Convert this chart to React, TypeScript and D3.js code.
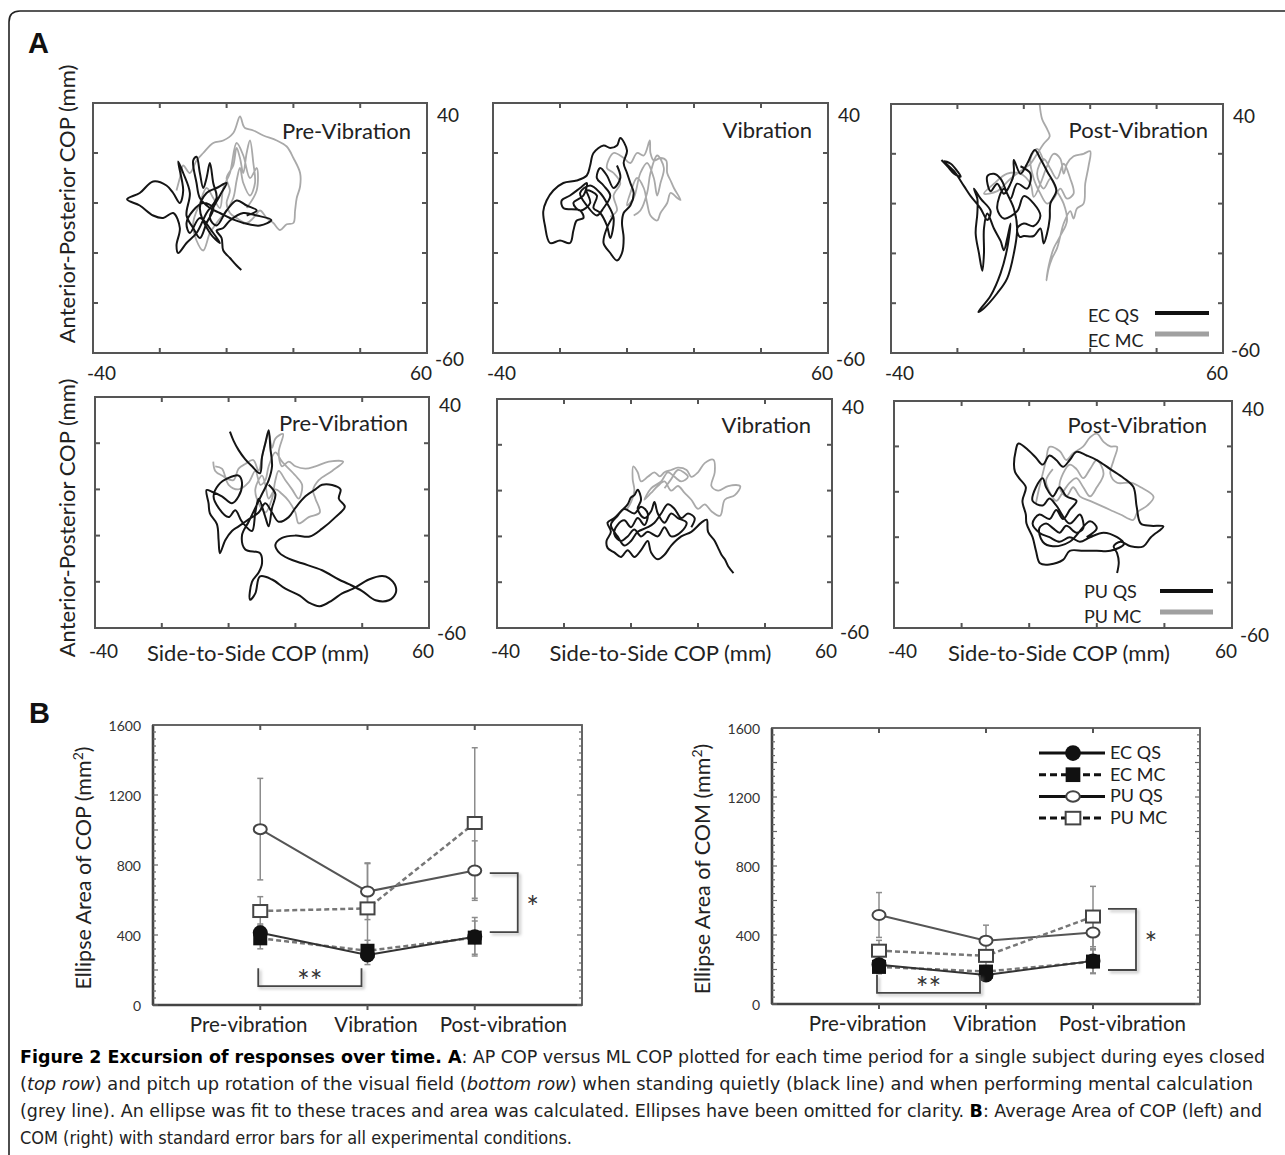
import React from 'react';
import * as d3 from 'd3';

type Pt = [number, number];

// ---------------- Panel A: COP traces (Side-to-side mm, Anterior-posterior mm) ----------------
const ecQsPre: Pt[] = [[4.4,-26.8],[3,-25],[1,-22],[-1,-19],[-1.5,-14],[-3,-11],[-1,-10],[1,-7],[5,-4],[9,-5],[13.4,-6.8],[10,-9],[5,-8],[1,-6],[-2,-4],[-5,-2],[-8,2],[-9,8],[-10,17],[-9,18.5],[-8,12],[-7,6],[-6,10],[-5,16],[-4,8],[-3,2],[-6,-4],[-9,-12],[-12,-16],[-14.5,-20],[-15,-17],[-14,-10],[-16,-4],[-19,-6],[-22,-5],[-26,-1],[-29.8,1.5],[-26,4],[-22,8.6],[-18,7],[-16,4],[-14,0],[-13,5],[-14.5,16.6],[-13,12],[-11,4],[-12,-5],[-10,-10],[-8,-14],[-6,-8],[-4,-2],[-7,0],[-10,-3],[-12,-8],[-11,-12],[-8,-6],[-4,-12],[-2,-16],[-5,-12],[-8,-2],[-6,4],[-3,6],[0,8],[-2,3],[-5,-6],[-3,-9],[0,-3],[3,1],[6,-1],[9,-3],[6,-5]];
const ecMcPre: Pt[] = [[-15,5],[-14,10],[-13,15],[-11,12],[-9,17],[-7,20],[-4,24],[-1,25],[2,28],[4,34.6],[5,31],[5.5,30],[8,29],[11,27],[15,25],[18,22.6],[20,18],[22,12],[22,6.6],[21,2],[20.5,-3],[20,-8],[18,-8.5],[16,-10.8],[14,-8],[12,-6],[10,-3],[8,-6],[6,-8],[3,-6],[1,-4],[0,0],[1,5],[0,10],[2,15],[3,22],[4,18],[5,12],[6,20],[7,25],[8,16],[8.5,8],[7,3],[5,8],[4,14],[3,9],[2,2],[0,-3],[-3,-8],[-5,-12],[-7,-19],[-9,-15],[-10,-8],[-8,0],[-6,6],[-4,2],[-2,-2],[-1,6],[1,12],[3,24],[5,19],[7,10],[9,14],[9,5],[6,-2]];
const ecQsVib: Pt[] = [[-4,-5],[-6,-10],[-7,-16],[-5,-20],[-3,-23],[-1.5,-20],[-1,-14],[-1.5,-8],[-1,-4],[1,-1],[2,4],[1,8],[0,12],[-1,16],[0,21],[-2,26],[-3,23],[-5,22],[-7,23],[-10,20],[-11,15],[-12,11],[-15,9],[-19,8],[-22,5],[-24,1],[-25,-3.4],[-24.5,-9],[-23,-16],[-20,-15],[-17,-16],[-16,-11],[-15,-7],[-13,-6],[-14,-3],[-19,-2],[-19.5,1],[-17,3],[-14,6],[-12,8],[-13,3],[-16,0],[-14,-3],[-11,0],[-12,5],[-9,3],[-10,-2],[-8,-4],[-6,-9],[-5,-14],[-4,-6],[-6,0],[-8,4],[-11,7],[-14,4],[-12,-1],[-9,-5],[-7,-2],[-5,3],[-7,7],[-9,10],[-8,14],[-6,11],[-4,6],[-2,10],[-3,15]];
const ecMcVib: Pt[] = [[-5,-5.5],[-3,-3],[-4,3],[-2,8],[-4,12],[-6,14],[-4,20],[-1,18],[1,16],[3,20],[5,19],[6.8,25],[7,20],[8,17],[10,18],[11.7,17],[12,12],[13,9],[14,6],[16,1.2],[15,2],[13,4],[12,0],[10,-4],[9,-7],[7,-5],[6,0],[5,6],[3,10],[1,4],[0,-1],[2,2],[4,12],[6,16],[8,10],[9,3],[10,8],[11,14],[9,19],[7,12],[6,4],[4,-3],[2,-5]];
const ecQsPost: Pt[] = [[-24.8,17.5],[-23,15],[-21,12],[-19,10.8],[-20,13],[-22,16],[-24,17],[-21,13],[-18,7],[-16,3],[-13,-2],[-11,-6.6],[-10,-3],[-13,2],[-15,6],[-14,2],[-14,-4],[-14.5,-12],[-13.5,-20],[-12.5,-27],[-12,-20],[-12,-10],[-11,-4],[-9,-10],[-7,-15],[-6,-18.7],[-5,-14],[-4,-8],[-5,-18],[-7,-28],[-10,-37],[-13.7,-43.5],[-12,-42],[-8,-36],[-5,-30],[-3,-20],[-2,-10],[-3,-2],[-5,4],[-7,10],[-9,12],[-11,11],[-10,5],[-8,8],[-6,4],[-4,8],[-3,12],[-3,17.5],[-1,12],[1,16],[3.3,21.5],[5,18],[7,13],[9.8,5.4],[8,0],[7.8,-6],[7,-12],[6,-16],[5,-10],[3,-13],[0,-13],[-1.2,-13.4],[-2,-10],[0,-8],[3,-9],[5,-5],[3,0],[0,3],[-2,-3],[-6,-6],[-8,-2],[-6,6],[-4,2],[-2,8],[1,6],[2,12],[-1,15]];
const ecMcPost: Pt[] = [[4.8,39.6],[5.5,34],[7,30],[7.8,27],[6,24],[4,20],[2,16],[0,14],[-4,10],[-8,5],[-12,4],[-9,8],[-5,12],[-1,12],[2,8],[3,2.7],[5,8],[7,15],[9,20],[11,18],[12,12],[13,16],[15,19],[18,20],[20,21],[19.5,15],[18.5,8],[18,0],[16,-2],[15,-6],[14,-3],[12,-8],[11,-13],[10,-18],[8.5,-22],[7.5,-26],[6.8,-30.8],[7.5,-25],[9,-18],[11,-13],[13,-7],[12,0],[10,5],[8,10],[6,6],[4,12],[6,18],[8,14],[10,10],[12,16],[14,10],[15,4],[13,2],[11,6],[9,2],[7,0],[5,4],[3,10],[2,18],[4,22],[6,17]];
const puQsPre: Pt[] = [[0.4,25],[1.5,21],[3,17],[5,13],[7,10],[9.4,7],[10,14],[11,20],[12,25.6],[12.5,18],[13,10],[12,4],[10,-2],[8,-8],[6,-14],[4,-20],[5,-26],[9.4,-27.6],[10,-32],[9,-36],[7,-40],[6.4,-47.8],[8,-45],[9.4,-37.7],[13,-39],[17,-43],[21.3,-46],[24,-49],[27.3,-50.6],[31,-48],[34,-45],[37.3,-43],[42,-39],[46,-37.5],[48,-38.4],[50,-42],[50,-45],[48,-48],[44,-48],[40,-44],[36,-41],[33,-39],[28,-35],[22,-32],[18,-30],[15.3,-27.6],[14,-24],[16,-21],[20,-20],[24.3,-20.4],[28,-17],[32,-12],[34.8,-7.5],[33,-4],[33.5,0],[31,1.9],[28,2],[26,0],[23,-3],[20,-8],[18,-12],[15,-14],[13,-10],[11,-6],[9,-10],[6,-13],[3,-16],[1,-18],[-1,-22],[-2.6,-27.6],[-3,-22],[-3.5,-15],[-5.6,-10.4],[-6,-6],[-6.6,-0.3],[-5,-1],[-2,-3],[1,-6],[3,-3],[4,3],[3,6],[0,5],[-3,2],[-4.5,-3],[-3,-8],[0,-12],[2,-9],[4,-14],[7,-18],[8,-10],[9,-4],[11,-12],[12,-16],[13,-8],[14,-2],[12,2]];
const puMcPre: Pt[] = [[-4.6,12],[-4,8],[-2,6],[1.4,4],[3,9],[5,11],[7.4,12.7],[9,8],[10,14],[11,20],[12,24],[13,18],[14,22],[16.3,24],[15,16],[16,10],[18,12],[20,10],[23,9],[26,10],[30,12],[34.3,12],[31,8],[27,4],[25.3,-0.3],[26,-4],[27.3,-10],[24,-12],[21,-14.7],[20,-10],[18,-5],[16,-2],[14,0],[12,-4],[11,2],[10,6],[8,0],[9,-6],[11,-10],[13,-4],[14,4],[15,8],[17,4],[19,0],[21,-4],[22,2],[20,6],[16,12],[14,16],[12,10],[11,4],[9.5,2],[8,8],[6,3],[3,0],[0,2],[-2,9],[-4,10]];
const puQsVib: Pt[] = [[30.6,-36],[29,-33],[28,-30],[27,-28],[26,-25],[25,-22],[23,-18],[22.6,-12.7],[21,-14],[18,-18],[15,-20],[12,-24],[10,-28],[8,-30],[6,-27],[5,-22],[3,-26],[1,-29],[-1,-26],[-3,-29],[-5,-27],[-7,-25],[-7.3,-22],[-6,-18],[-7,-14],[-5,-12],[-3,-9],[-1,-6],[0,-3],[1,-2],[2,0.4],[3,-4],[2,-8],[4,-12],[6,-9],[7,-5],[8,-10],[10,-14],[12,-10],[14,-12],[16.6,-14],[15,-18],[12,-20],[10,-16],[8,-20],[5,-18],[3,-20],[1,-17],[-1,-20],[-3,-22],[-5,-19],[-4,-15],[-2,-13],[0,-16],[2,-12],[4,-15],[5,-10],[3,-7],[1,-10],[-2,-8],[-4,-11],[-6,-15],[-4,-20],[-2,-24],[0,-22],[2,-18],[5,-16],[7,-14],[9,-10],[11,-6],[13,-8],[15,-12],[17,-10],[19,-12],[18,-16]];
const puMcVib: Pt[] = [[-1.3,-8.3],[0,-5],[1,0],[0.5,5],[0.7,10.6],[2,8],[3,4],[5,6],[7,8],[8.6,6.2],[10,8],[12,9],[14,10],[16.6,9],[18,6],[20,8],[22,12],[24.6,13.5],[25,8],[24,2],[26,0],[29,2],[32.6,1.9],[31,-2],[28,-4],[26.6,-11],[24,-9],[22,-6],[20,-8],[18,-4],[16,-1],[14,2],[12,0],[10,4],[8,2],[6,-1],[4,-4],[6,1],[9,4],[11,8],[13,6],[15,4],[17,6],[14,9],[12,5],[10,1]];
const puQsPost: Pt[] = [[26,-35.8],[26.5,-31],[26,-27],[25,-24],[27,-22],[30,-24],[33.8,-24],[36,-20],[39.7,-15.3],[36,-15],[33,-14],[31.8,-6.6],[30.8,2.2],[28,6],[24,10],[20,14],[17,16],[14,17.6],[12,14],[10,11],[8,14],[6,16],[4,12],[2,15],[0,18],[-3.2,21.3],[-4,18],[-4.5,12],[-4.2,8.8],[-3,6],[-1,2],[-2,-4],[-1,-10],[-0.8,-14],[1,-20],[2,-26],[3.2,-31.5],[6,-32],[10,-30],[12,-26],[16,-26],[20,-26],[24,-26],[28,-23],[26,-20],[22,-18],[18,-20],[15,-22],[12,-20],[9,-22],[6,-20],[3,-18],[1,-14],[3,-10],[6,-12],[8,-8],[10,-12],[12,-8],[14,-4],[11,-2],[9,2],[7,-2],[5,2],[4,6],[2,2],[1,-4],[4,-6],[6,-3],[8,-6],[12,-14],[15,-10],[16,-16],[14,-18],[11,-15],[9,-18],[7,-16],[5,-14],[3,-16],[4,-22],[7,-24],[12,-22],[18,-13],[20,-16],[17,-20]];
const puMcPost: Pt[] = [[2,-5],[3,2],[4,8],[5,14],[6,19.8],[9,18],[11,14],[13,17],[16,20],[18,24],[20,25.6],[22,22],[24,20],[26,19.8],[25,14],[24,8],[26,4],[30,4],[33,2],[36.8,-2.2],[35,-6],[32,-9],[30.8,-12.4],[27,-10],[24,-8],[21,-6],[18,-4],[15,-2],[13,2],[11,-2],[9,2],[10,8],[12,12],[14,10],[16,6],[18,10],[20,14],[22,8],[20,2],[18,-2],[16,2],[14,6],[12,4],[10,0],[8,-4],[6,0],[5,5],[7,10]];

const domainML: [number, number] = [-40, 60];
const domainAP: [number, number] = [-60, 40];
const innerTicksML = [-20, 0, 20, 40];
const innerTicksAP = [-40, -20, 0, 20];
const periodTitles = ['Pre-Vibration', 'Vibration', 'Post-Vibration'];
const legendTop = ['EC QS', 'EC MC'];
const legendBottom = ['PU QS', 'PU MC'];

// ---------------- Panel B: ellipse areas (mm^2) ----------------
const conditions = ['Pre-vibration', 'Vibration', 'Post-vibration'];
const seriesNames = ['EC QS', 'EC MC', 'PU QS', 'PU MC'];
const copEcQs = [413, 286, 390];
const copEcMc = [381, 310, 385];
const copPuQs = [1005, 648, 768];
const copPuMc = [537, 552, 1040];
const copEcQsErr = [50, 55, 110];
const copEcMcErr = [60, 60, 95];
const copPuQsErr = [290, 160, 170];
const copPuMcErr = [82, 260, 430];
const comEcQs = [228, 168, 250];
const comEcMc = [215, 188, 246];
const comPuQs = [516, 367, 414];
const comPuMc = [309, 279, 507];
const comEcQsErr = [30, 30, 70];
const comEcMcErr = [40, 35, 70];
const comPuQsErr = [130, 90, 100];
const comPuMcErr = [60, 60, 175];
const areaTicks = [0, 400, 800, 1200, 1600];

const FONT = "Lato, 'Open Sans', sans-serif";
const CAPFONT = "'Liberation Sans Narrow', 'DejaVu Sans Condensed', 'Liberation Sans', sans-serif";

type PanelA = {
  box: [number, number, number, number];
  title: string;
  black: Pt[];
  grey: Pt[];
  row: number;
  titleDx: number;
  titleDy: number;
  n60dy: number;
  legend?: string[];
  leg?: { tx: number; lx0: number; lx1: number; ty: number[]; ly: number[] };
};

const panelsA: PanelA[] = [
  { box: [93, 103, 427, 353], title: periodTitles[0], black: ecQsPre, grey: ecMcPre, row: 0, titleDx: -16, titleDy: 36, n60dy: 13 },
  { box: [493, 103, 828, 353], title: periodTitles[1], black: ecQsVib, grey: ecMcVib, row: 0, titleDx: -16, titleDy: 35, n60dy: 13 },
  { box: [891, 104, 1223, 353], title: periodTitles[2], black: ecQsPost, grey: ecMcPost, row: 0, titleDx: -15, titleDy: 34, n60dy: 4,
    legend: legendTop, leg: { tx: -135, lx0: -68, lx1: -14, ty: [-31, -6], ly: [-40, -19] } },
  { box: [95, 397, 429, 628], title: periodTitles[0], black: puQsPre, grey: puMcPre, row: 1, titleDx: -21, titleDy: 34, n60dy: 12 },
  { box: [497, 399, 832, 628], title: periodTitles[1], black: puQsVib, grey: puMcVib, row: 1, titleDx: -21, titleDy: 34, n60dy: 11 },
  { box: [894, 401, 1232, 628], title: periodTitles[2], black: puQsPost, grey: puMcPost, row: 1, titleDx: -25, titleDy: 32, n60dy: 14,
    legend: legendBottom, leg: { tx: -148, lx0: -72, lx1: -19, ty: [-30, -5], ly: [-37, -16] } },
];

function renderPanelA(p: PanelA, i: number) {
  const [x0, y0, x1, y1] = p.box;
  const x = d3.scaleLinear().domain(domainML).range([x0, x1]);
  const y = d3.scaleLinear().domain(domainAP).range([y1, y0]);
  const line = d3.line<Pt>().x(d => x(d[0])).y(d => y(d[1])).curve(d3.curveCatmullRom.alpha(0.5));
  const tl = 5;
  const r = p.row;
  return (
    <g key={'pa' + i}>
      <path d={line(p.grey) || ''} fill="none" stroke="#a9a9a9" strokeWidth={1.8} strokeLinejoin="round" />
      <path d={line(p.black) || ''} fill="none" stroke="#151515" strokeWidth={2} strokeLinejoin="round" />
      <rect x={x0} y={y0} width={x1 - x0} height={y1 - y0} fill="none" stroke="#555" strokeWidth={2} />
      {innerTicksML.map(t => (
        <g key={'tx' + t}>
          <line x1={x(t)} x2={x(t)} y1={y0} y2={y0 + tl} stroke="#555" strokeWidth={2} />
          <line x1={x(t)} x2={x(t)} y1={y1} y2={y1 - tl} stroke="#555" strokeWidth={2} />
        </g>
      ))}
      {innerTicksAP.map(t => (
        <g key={'ty' + t}>
          <line x1={x0} x2={x0 + tl} y1={y(t)} y2={y(t)} stroke="#555" strokeWidth={2} />
          <line x1={x1} x2={x1 - tl} y1={y(t)} y2={y(t)} stroke="#555" strokeWidth={2} />
        </g>
      ))}
      <text x={x1 + p.titleDx} y={y0 + p.titleDy} textAnchor="end" fontFamily={FONT} fontSize={22} fill="#222">{p.title}</text>
      <text x={x0 - 6} y={y1 + (r === 0 ? 27 : 30)} fontFamily={FONT} fontSize={19} fill="#222">{String(domainML[0])}</text>
      <text x={x1 + 5} y={y1 + (r === 0 ? 27 : 30)} textAnchor="end" fontFamily={FONT} fontSize={19} fill="#222">{String(domainML[1])}</text>
      <text x={x1 + 10} y={y0 + (r === 0 ? 19 : 15)} fontFamily={FONT} fontSize={19} fill="#222">{String(domainAP[1])}</text>
      <text x={x1 + 8} y={y1 + p.n60dy} fontFamily={FONT} fontSize={19} fill="#222">{String(domainAP[0])}</text>
      {r === 1 && (
        <text x={(x0 + x1) / 2 - 4} y={y1 + 33} textAnchor="middle" fontFamily={FONT} fontSize={22} fill="#222">Side-to-Side COP (mm)</text>
      )}
      {p.legend && p.leg && p.legend.map((name, k) => (
        <g key={name}>
          <text x={x1 + p.leg!.tx} y={y1 + p.leg!.ty[k]} fontFamily={FONT} fontSize={18} fill="#222">{name}</text>
          <line x1={x1 + p.leg!.lx0} x2={x1 + p.leg!.lx1} y1={y1 + p.leg!.ly[k]} y2={y1 + p.leg!.ly[k]}
            stroke={k === 0 ? '#111' : '#a0a0a0'} strokeWidth={k === 0 ? 4 : 5} />
        </g>
      ))}
    </g>
  );
}

type ChartB = {
  box: [number, number, number, number];
  label: string;
  means: number[][];
  errs: number[][];
  legend: boolean;
  starTop: number;
  starBottom: number;
  dStarBottom: number;
  dStarTop: number;
};

const chartsB: ChartB[] = [
  { box: [153, 725, 582, 1005], label: 'COP', means: [copEcQs, copEcMc, copPuQs, copPuMc], errs: [copEcQsErr, copEcMcErr, copPuQsErr, copPuMcErr], legend: false,
    starTop: 754, starBottom: 417, dStarBottom: 108, dStarTop: 210 },
  { box: [772, 728, 1200, 1004], label: 'COM', means: [comEcQs, comEcMc, comPuQs, comPuMc], errs: [comEcQsErr, comEcMcErr, comPuQsErr, comPuMcErr], legend: true,
    starTop: 551, starBottom: 197, dStarBottom: 64, dStarTop: 168 },
];

function marker(kind: number, cx: number, cy: number, big: boolean, key: string) {
  const s = big ? 1.05 : 1;
  if (kind === 0) return <circle key={key} cx={cx} cy={cy} r={7.5 * s} fill="#111" />;
  if (kind === 1) return <rect key={key} x={cx - 7 * s} y={cy - 7 * s} width={14 * s} height={14 * s} fill="#111" />;
  if (kind === 2) return <ellipse key={key} cx={cx} cy={cy} rx={6.5 * s} ry={5 * s} fill="#fff" stroke="#444" strokeWidth={2} />;
  return <rect key={key} x={cx - 7 * s} y={cy - 6 * s} width={14 * s} height={12 * s} fill="#fff" stroke="#444" strokeWidth={2} />;
}

function renderChartB(c: ChartB, i: number) {
  const [x0, y0, x1, y1] = c.box;
  const x = d3.scaleLinear().domain([0, 4]).range([x0, x1]);
  const y = d3.scaleLinear().domain([0, 1600]).range([y1, y0]);
  const lbl = d3.scaleBand<string>().domain(conditions).range([x0 + 32, x0 + 414]);
  const minor = d3.range(0, 1601, 40);
  const lineGen = d3.line<number>().x((_, k) => x(k + 1)).y(d => y(d));
  const dashed = [false, true, false, true];
  const lineColor = ['#333', '#777', '#555', '#777'];
  const drawOrder = [2, 3, 1, 0];
  const xp = x(3);
  const dStarY = y(c.dStarBottom) - 9;
  const starY = (y(c.starTop) + y(c.starBottom)) / 2;
  return (
    <g key={'cb' + i}>
      {c.means.map((ser, s) => ser.map((v, k) => {
        const e = c.errs[s][k];
        const cx = x(k + 1);
        return (
          <g key={'e' + s + k} stroke="#8c8c8c" strokeWidth={1.5}>
            <line x1={cx} x2={cx} y1={y(v - e)} y2={y(v + e)} />
            <line x1={cx - 3} x2={cx + 3} y1={y(v - e)} y2={y(v - e)} />
            <line x1={cx - 3} x2={cx + 3} y1={y(v + e)} y2={y(v + e)} />
          </g>
        );
      }))}
      {drawOrder.map(s => (
        <path key={'l' + s} d={lineGen(c.means[s]) || ''} fill="none" stroke={lineColor[s]}
          strokeWidth={dashed[s] ? 2.5 : 2} strokeDasharray={dashed[s] ? '5,3' : undefined} />
      ))}
      {drawOrder.map(s => c.means[s].map((v, k) => marker(s, x(k + 1), y(v), false, 'm' + s + k)))}
      <rect x={x0} y={y0} width={x1 - x0} height={y1 - y0} fill="none" stroke="#555" strokeWidth={1.8} />
      <line x1={x0} x2={x0} y1={y0} y2={y1} stroke="#444" strokeWidth={2.6} />
      <line x1={x0} x2={x1} y1={y1} y2={y1} stroke="#444" strokeWidth={2.6} />
      {minor.map(t => {
        const len = t % 200 === 0 ? 5 : 3;
        return (
          <g key={'mt' + t} stroke="#666" strokeWidth={1.2}>
            <line x1={x0} x2={x0 + len} y1={y(t)} y2={y(t)} />
            <line x1={x1} x2={x1 - len} y1={y(t)} y2={y(t)} />
          </g>
        );
      })}
      {[1, 2, 3].map(k => (
        <g key={'xt' + k} stroke="#555" strokeWidth={2}>
          <line x1={x(k)} x2={x(k)} y1={y0} y2={y0 + 5} />
          <line x1={x(k)} x2={x(k)} y1={y1} y2={y1 + 5} />
        </g>
      ))}
      {areaTicks.map(t => (
        <text key={'yl' + t} x={x0 - 12} y={y(t) + 6} textAnchor="end" fontFamily={FONT} fontSize={14} fill="#333">{t}</text>
      ))}
      {conditions.map(cn => (
        <text key={cn} x={(lbl(cn) || 0) + lbl.bandwidth() / 2} y={y1 + 27} textAnchor="middle" fontFamily={FONT} fontSize={20.5} fill="#222">{cn}</text>
      ))}
      <text transform={`translate(${x0 - 62},${(y0 + y1) / 2 + 3}) rotate(-90)`} textAnchor="middle" fontFamily={FONT} fontSize={21.5} fill="#222">
        {`Ellipse Area  of ${c.label} (mm`}<tspan dy={-8} fontSize={14}>2</tspan><tspan dy={8}>)</tspan>
      </text>
      <g filter="url(#shadow)">
        <path d={`M${x(1) - 2},${y(c.dStarTop)} V${y(c.dStarBottom)} H${x(2) - 6} V${y(c.dStarTop)}`} fill="none" stroke="#444" strokeWidth={1.8} />
        <path d={`M${xp + 15},${y(c.starTop)} H${xp + 43} V${y(c.starBottom)} H${xp + 15}`} fill="none" stroke="#444" strokeWidth={1.8} />
      </g>
      <text x={(x(1) + x(2)) / 2 - 4} y={dStarY + 15} textAnchor="middle" fontFamily={FONT} fontSize={30} fill="#333">**</text>
      <text x={xp + 58} y={starY + 15} textAnchor="middle" fontFamily={FONT} fontSize={30} fill="#333">*</text>
      {c.legend && seriesNames.map((nm, s) => {
        const ly = y0 + 25 + s * 21.7;
        return (
          <g key={'lg' + s}>
            <line x1={x1 - 161} x2={x1 - 95} y1={ly} y2={ly} stroke="#111" strokeWidth={3} strokeDasharray={dashed[s] ? '7,4' : undefined} />
            {marker(s, x1 - 127, ly, true, 'lm' + s)}
            <text x={x1 - 90} y={ly + 6} fontFamily={FONT} fontSize={18} fill="#222">{nm}</text>
          </g>
        );
      })}
    </g>
  );
}

export default function App() {
  return (
    <svg width={1285} height={1155} viewBox="0 0 1285 1155" style={{ position: 'absolute', left: 0, top: 0, background: '#fff' }}>
      <defs>
        <filter id="shadow" x="-20%" y="-20%" width="160%" height="160%">
          <feDropShadow dx="2" dy="2" stdDeviation="1.5" floodColor="#999" floodOpacity="0.7" />
        </filter>
      </defs>
      <rect x={0} y={0} width={1285} height={1155} fill="#fff" />
      <path d="M9,1155 V22 Q9,11 20,11 H1285" fill="none" stroke="#222" strokeWidth={1.6} />
      <text x={28} y={53} fontFamily="'Liberation Sans', Arial, sans-serif" fontWeight="bold" fontSize={29} fill="#111">A</text>
      <text x={29} y={723} fontFamily="'Liberation Sans', Arial, sans-serif" fontWeight="bold" fontSize={29} fill="#111">B</text>

      <text transform="translate(75,204) rotate(-90)" textAnchor="middle" fontFamily={FONT} fontSize={22} fill="#222">Anterior-Posterior COP (mm)</text>
      <text transform="translate(75,518) rotate(-90)" textAnchor="middle" fontFamily={FONT} fontSize={22} fill="#222">Anterior-Posterior COP (mm)</text>
      {panelsA.map(renderPanelA)}
      {chartsB.map(renderChartB)}

      <g fontFamily={CAPFONT} fontSize={18} fill="#222">
        <text x={20} y={1063} textLength={1245} lengthAdjust="spacingAndGlyphs">
          <tspan fontWeight="bold" fill="#000">Figure 2 Excursion of responses over time. A</tspan>
          <tspan>: AP COP versus ML COP plotted for each time period for a single subject during eyes closed</tspan>
        </text>
        <text x={20} y={1090} textLength={1233} lengthAdjust="spacingAndGlyphs">
          <tspan>(</tspan><tspan fontStyle="italic">top row</tspan><tspan>) and pitch up rotation of the visual field (</tspan><tspan fontStyle="italic">bottom row</tspan><tspan>) when standing quietly (black line) and when performing mental calculation</tspan>
        </text>
        <text x={20} y={1117} textLength={1242} lengthAdjust="spacingAndGlyphs">
          <tspan>(grey line). An ellipse was fit to these traces and area was calculated. Ellipses have been omitted for clarity. </tspan>
          <tspan fontWeight="bold" fill="#000">B</tspan><tspan>: Average Area of COP (left) and</tspan>
        </text>
        <text x={20} y={1144} textLength={552} lengthAdjust="spacingAndGlyphs">COM (right) with standard error bars for all experimental conditions.</text>
      </g>
    </svg>
  );
}
